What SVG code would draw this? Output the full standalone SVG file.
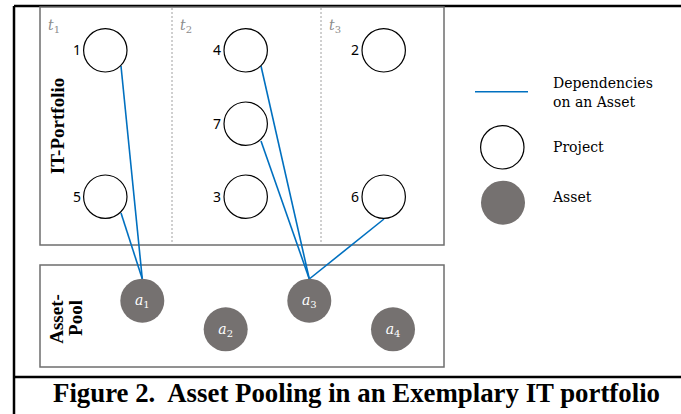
<svg xmlns="http://www.w3.org/2000/svg" width="681" height="414" viewBox="0 0 681 414">
<style>
.frame{stroke:#000;stroke-width:2.5;fill:none}
.box{stroke:#6e6e6e;stroke-width:1.5;fill:#fff}
.div{stroke:#a0a0a0;stroke-width:1;stroke-dasharray:2,2}
.proj{fill:#fff;stroke:#000;stroke-width:1.2}
.asset{fill:#757170}
.dep{stroke:#0070C0;stroke-width:1.6;fill:none}
.num{font-family:"Noto Sans","DejaVu Sans",sans-serif;font-size:14px;fill:#000;text-anchor:end}
.t{font-family:"DejaVu Serif",serif;font-style:italic;font-size:14px;fill:#8c8c8c}
.sub{font-size:10px;font-style:normal}
.al{font-family:"DejaVu Serif",serif;font-style:italic;font-size:14px;fill:#fff;text-anchor:middle}
.leg{font-family:"DejaVu Serif",serif;font-size:14px;fill:#000}
.vlab{font-family:"Liberation Serif",serif;font-weight:bold;font-size:19px;fill:#000;text-anchor:middle}
.cap{font-family:"Liberation Serif",serif;font-weight:bold;font-size:26.5px;fill:#000;white-space:pre}
</style>
<rect width="681" height="414" fill="#fff"/>
<g id="frame">
<line class="frame" x1="14" y1="6" x2="681" y2="6"/>
<line class="frame" x1="14" y1="6" x2="14" y2="414"/>
<line class="frame" x1="14" y1="377" x2="681" y2="377"/>
</g>
<g id="it-portfolio">
<rect class="box" x="40" y="7" width="404" height="238"/>
<line class="div" x1="172" y1="8" x2="172" y2="244"/>
<line class="div" x1="321" y1="8" x2="321" y2="244"/>
<text class="t" x="48" y="30">t<tspan class="sub" dy="3">1</tspan></text>
<text class="t" x="180" y="30">t<tspan class="sub" dy="3">2</tspan></text>
<text class="t" x="329" y="30">t<tspan class="sub" dy="3">3</tspan></text>
<text class="vlab" transform="translate(64,126) rotate(-90)">IT-Portfolio</text>
</g>
<g id="asset-pool">
<rect class="box" x="40" y="265" width="404" height="102"/>
<text class="vlab" transform="translate(63,319) rotate(-90)">Asset-</text>
<text class="vlab" transform="translate(82,318) rotate(-90)">Pool</text>
</g>
<g id="connectors">
<line class="dep" x1="121" y1="66" x2="142.3" y2="279"/>
<line class="dep" x1="121" y1="213" x2="142.3" y2="279"/>
<line class="dep" x1="261" y1="66" x2="309.3" y2="279"/>
<line class="dep" x1="261" y1="141" x2="309.3" y2="279"/>
<line class="dep" x1="384" y1="219" x2="309.3" y2="279"/>
</g>
<g id="p1"><circle class="proj" cx="105.3" cy="50.3" r="21.7"/><text class="num" x="81" y="55">1</text></g>
<g id="p5"><circle class="proj" cx="105.3" cy="196.7" r="21.7"/><text class="num" x="81" y="201.5">5</text></g>
<g id="p4"><circle class="proj" cx="245.7" cy="50.3" r="21.7"/><text class="num" x="221" y="55">4</text></g>
<g id="p7"><circle class="proj" cx="245.7" cy="123.7" r="21.7"/><text class="num" x="221" y="128.5">7</text></g>
<g id="p3"><circle class="proj" cx="245.7" cy="196.7" r="21.7"/><text class="num" x="221" y="201.5">3</text></g>
<g id="p2"><circle class="proj" cx="383.7" cy="50.3" r="21.7"/><text class="num" x="359" y="55">2</text></g>
<g id="p6"><circle class="proj" cx="383.7" cy="196.7" r="21.7"/><text class="num" x="359" y="201.5">6</text></g>
<g id="a1"><circle class="asset" cx="142.3" cy="300.7" r="22"/><text class="al" x="142.3" y="305">a<tspan class="sub" dy="3">1</tspan></text></g>
<g id="a2"><circle class="asset" cx="225.7" cy="329.3" r="22"/><text class="al" x="225.7" y="333.5">a<tspan class="sub" dy="3">2</tspan></text></g>
<g id="a3"><circle class="asset" cx="309.3" cy="300.7" r="22"/><text class="al" x="309.3" y="305">a<tspan class="sub" dy="3">3</tspan></text></g>
<g id="a4"><circle class="asset" cx="393" cy="329.3" r="22"/><text class="al" x="393" y="333.5">a<tspan class="sub" dy="3">4</tspan></text></g>
<g id="legend">
<line class="dep" x1="475" y1="91.7" x2="528" y2="91.7" stroke-width="2"/>
<text class="leg" x="553" y="87.5">Dependencies</text>
<text class="leg" x="553" y="107">on an Asset</text>
<circle class="proj" cx="502.3" cy="147.3" r="21.7"/>
<text class="leg" x="553" y="152">Project</text>
<circle class="asset" cx="503" cy="202.7" r="22"/>
<text class="leg" x="553" y="201.5">Asset</text>
</g>
<g id="caption">
<text class="cap" x="53" y="402" textLength="607" lengthAdjust="spacingAndGlyphs" xml:space="preserve">Figure 2.  Asset Pooling in an Exemplary IT portfolio</text>
</g>
</svg>
